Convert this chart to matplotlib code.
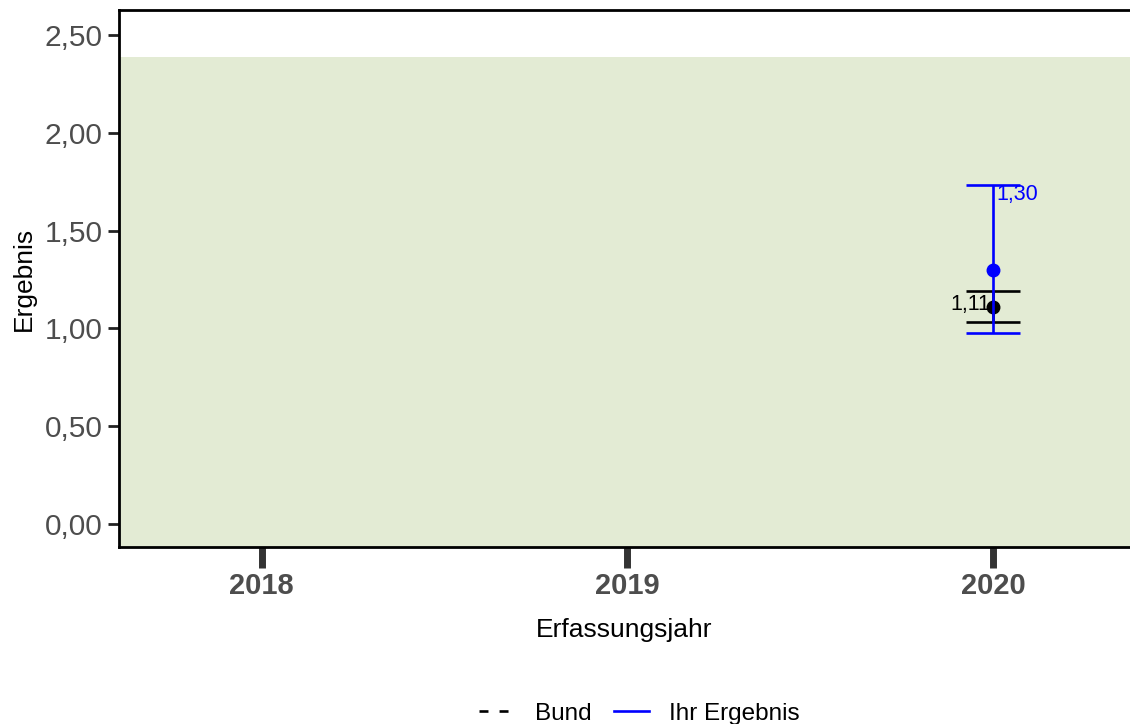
import matplotlib
matplotlib.use('Agg')
import matplotlib.pyplot as plt
from matplotlib.lines import Line2D
import numpy as np

plt.rcParams['font.family'] = ['Liberation Sans', 'DejaVu Sans']

years = [2018, 2019, 2020]
bund_year = [2020]
bund_val = [1.11]
bund_lo = [1.035]
bund_hi = [1.19]
ihr_year = [2020]
ihr_val = [1.30]
ihr_lo = [0.975]
ihr_hi = [1.735]
green_top = 2.39
yticks = [0.0, 0.5, 1.0, 1.5, 2.0, 2.5]


def de_fmt(v):
    return ('%.2f' % v).replace('.', ',')


fig = plt.figure(figsize=(11.3, 7.24), dpi=100)
ax = fig.add_axes([0.1053, 0.2445, 0.8947, 0.7417])

ax.set_xlim(2017.61, 2020.374)
ax.set_ylim(-0.118, 2.628)
ax.axhspan(-1, green_top, color='#e3ebd4', lw=0, zorder=0)

# Bund
ax.errorbar(bund_year, bund_val,
            yerr=[np.array(bund_val) - np.array(bund_lo), np.array(bund_hi) - np.array(bund_val)],
            fmt='o', color='black', ms=9, capsize=19.5, capthick=1.9, elinewidth=1.9, zorder=3)
# Ihr Ergebnis
ax.errorbar(ihr_year, ihr_val,
            yerr=[np.array(ihr_val) - np.array(ihr_lo), np.array(ihr_hi) - np.array(ihr_val)],
            fmt='o', color='#0000ff', ms=9, capsize=19.5, capthick=1.9, elinewidth=1.9, zorder=4)

for x, v in zip(bund_year, bund_val):
    ax.text(x - 0.008, v + 0.01, de_fmt(v), ha='right', va='center', fontsize=15.5, color='black', zorder=5)
for x, v, h in zip(ihr_year, ihr_val, ihr_hi):
    ax.text(x + 0.01, h + 0.005, de_fmt(v), ha='left', va='top', fontsize=15.5, color='#0000ff', zorder=5)

ax.set_yticks(yticks)
ax.set_yticklabels([de_fmt(t) for t in yticks], fontsize=21.5, color='#4d4d4d')
ax.set_xticks(years)
ax.set_xticklabels([str(y) for y in years], fontsize=21, color='#4d4d4d', fontweight='bold')
ax.tick_params(axis='y', length=8, width=2, color='#222222', pad=4)
ax.tick_params(axis='x', length=15, width=5, color='#333333', pad=3)

for s in ['left', 'bottom', 'top']:
    ax.spines[s].set_linewidth(2)
    ax.spines[s].set_color('black')
ax.spines['right'].set_visible(False)

ax.set_xlabel('Erfassungsjahr', fontsize=19, labelpad=13)
ax.set_ylabel('Ergebnis', fontsize=19, labelpad=6)

handles = [Line2D([0], [0], color='black', lw=1.9, ls=(0, (3.4, 4.2))),
           Line2D([0], [0], color='#0000ff', lw=1.9)]
fig.legend(handles, ['Bund', 'Ihr Ergebnis'], loc='lower center', bbox_to_anchor=(0.566, -0.031),
           ncol=2, frameon=False, fontsize=17.5, handlelength=1.44, columnspacing=0.9, handletextpad=0.85)

fig.savefig('out.png', dpi=100)
